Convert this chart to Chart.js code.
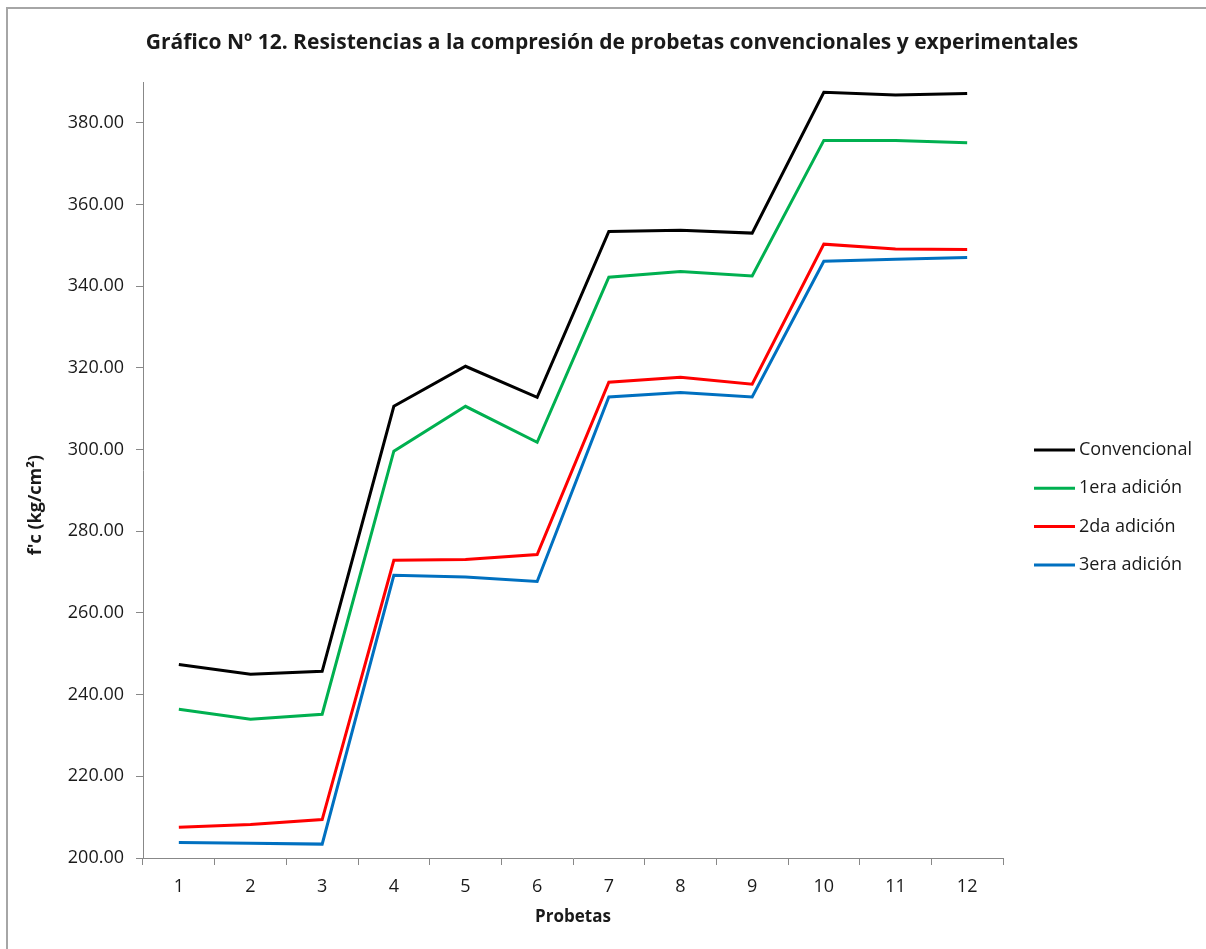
<!DOCTYPE html>
<html>
<head>
<meta charset="utf-8">
<title>Gráfico Nº 12</title>
<script src="https://cdn.jsdelivr.net/npm/chart.js@4.4.0/dist/chart.umd.min.js"></script>
<style>
  html, body { margin: 0; padding: 0; background: #fff; overflow: hidden; }
  #frame {
    position: absolute; left: 6px; top: 7px;
    border-left: 2px solid #a6a6a6; border-top: 2px solid #a6a6a6;
  }
  canvas { display: block; }
</style>
</head>
<body>
<div id="frame"><canvas id="chart" width="1208" height="940"></canvas></div>
<script>
// Data
const probetas = ['1', '2', '3', '4', '5', '6', '7', '8', '9', '10', '11', '12'];
const convencional = [247.4, 245.0, 245.7, 310.6, 320.4, 312.8, 353.4, 353.7, 353.0, 387.5, 386.8, 387.2];
const primeraAdicion = [236.4, 234.0, 235.2, 299.6, 310.6, 301.8, 342.2, 343.6, 342.5, 375.7, 375.7, 375.1];
const segundaAdicion = [207.5, 208.2, 209.4, 272.9, 273.1, 274.3, 316.5, 317.7, 316.0, 350.3, 349.1, 349.0];
const terceraAdicion = [203.8, 203.6, 203.4, 269.2, 268.8, 267.7, 312.9, 314.0, 312.9, 346.1, 346.6, 347.0];
const yTicks = { min: 200, max: 390, step: 20 };

const chartTitle = 'Gráfico Nº 12. Resistencias a la compresión de probetas convencionales y experimentales';
const FONT = "'Open Sans', 'DejaVu Sans', sans-serif";

// Title centred on the whole frame, legend on the right and the rotated y title
// (drawn by hand because Excel puts them where Chart.js won't)
const sidePlugin = {
    id: 'side',
    afterDraw(chart) {
        const ctx = chart.ctx;
        ctx.save();
        ctx.fillStyle = '#1a1a1a';
        // title
        ctx.font = 'bold 21px ' + FONT;
        ctx.textAlign = 'center';
        ctx.textBaseline = 'middle';
        ctx.fillText(chartTitle, 604, 34);
        // legend
        ctx.font = '18px ' + FONT;
        ctx.textAlign = 'left';
        chart.data.datasets.forEach((ds, i) => {
            const y = 441 + i * 38.3;
            ctx.strokeStyle = ds.borderColor;
            ctx.lineWidth = 3;
            ctx.beginPath();
            ctx.moveTo(1026, y);
            ctx.lineTo(1067, y);
            ctx.stroke();
            ctx.fillText(ds.label, 1071, y);
        });
        // y axis title
        ctx.translate(28, 496);
        ctx.rotate(-Math.PI / 2);
        ctx.font = 'bold 18px ' + FONT;
        ctx.textAlign = 'center';
        ctx.fillText("f'c (kg/cm²)", 0, 0);
        ctx.restore();
    }
};

const ctx = document.getElementById('chart').getContext('2d');
new Chart(ctx, {
    type: 'line',
    data: {
        labels: probetas,
        datasets: [
            { label: 'Convencional', data: convencional, borderColor: '#000000' },
            { label: '1era adición', data: primeraAdicion, borderColor: '#00b050' },
            { label: '2da adición', data: segundaAdicion, borderColor: '#ff0000' },
            { label: '3era adición', data: terceraAdicion, borderColor: '#0070c0' }
        ]
    },
    options: {
        responsive: false,
        animation: false,
        layout: { padding: { top: 73, right: 213 } },
        elements: {
            line: { borderWidth: 3, tension: 0, fill: false },
            point: { radius: 0 }
        },
        plugins: {
            legend: { display: false },
            tooltip: { enabled: false }
        },
        scales: {
            x: {
                offset: true,
                grid: { offset: true, drawOnChartArea: false, tickLength: 7, color: '#888' },
                border: { color: '#888', width: 1 },
                ticks: { color: '#1a1a1a', font: { family: FONT, size: 18 }, padding: 11, maxRotation: 0 },
                title: {
                    display: true, text: 'Probetas', color: '#1a1a1a',
                    font: { family: FONT, size: 17, weight: 'bold' },
                    padding: { top: 0, bottom: 22 }
                },
                afterFit(scale) { scale.height = 91; }
            },
            y: {
                min: yTicks.min,
                max: yTicks.max,
                grid: { drawOnChartArea: false, tickLength: 7, color: '#888' },
                border: { color: '#888', width: 1 },
                ticks: {
                    stepSize: yTicks.step,
                    includeBounds: false,
                    color: '#1a1a1a',
                    font: { family: FONT, size: 18 },
                    padding: 12,
                    callback: v => v.toFixed(2)
                },
                afterFit(scale) { scale.width = 135; }
            }
        }
    },
    plugins: [sidePlugin]
});
</script>
</body>
</html>
